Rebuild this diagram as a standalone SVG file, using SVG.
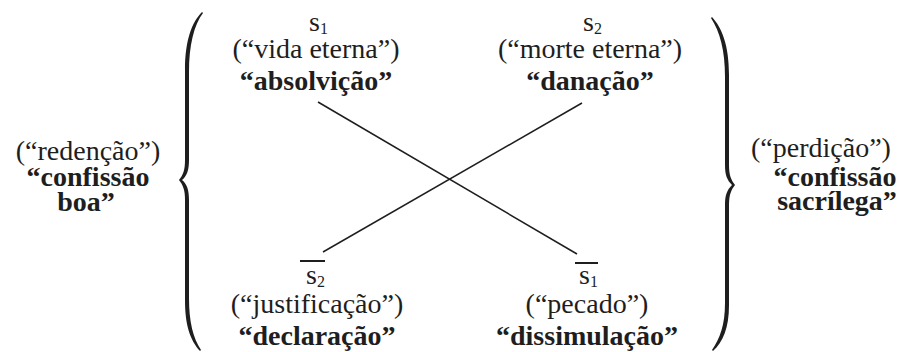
<svg xmlns="http://www.w3.org/2000/svg" width="902" height="352" viewBox="0 0 902 352" font-family="'Liberation Serif', 'Times New Roman', serif">
<style>
  .t { font-size: 28px; text-anchor: middle; fill: #1e1e1e; }
  .b { font-size: 28px; font-weight: bold; text-anchor: middle; fill: #1e1e1e; }
  .s { font-size: 28px; fill: #1e1e1e; }
  .sub { font-size: 16px; }
  .bar { stroke: #1e1e1e; stroke-width: 2; }
  .link { stroke: #1e1e1e; stroke-width: 1.5; fill: none; }
  .brace { fill: #1e1e1e; }
</style>
<rect width="902" height="352" fill="#ffffff"/>

<g id="connectors">
  <line class="link" x1="318" y1="102" x2="577" y2="254"/>
  <line class="link" x1="323" y1="252" x2="582" y2="103"/>
</g>

<g id="braces">
  <path class="brace" d="M202,12 C192,22 185,40 185,70 L185,160 C185,170 183,175 179,180 C183,185 185,190 185,200 L185,300 C185,325 190,340 200,351 L201,350 C193,338 189,322 189,298 L189,200 C189,190 187,184 182,180 C187,176 189,170 189,160 L189,72 C189,45 194,25 203,13 Z"/>
  <path class="brace" d="M712,17 C722,28 729,45 729,75 L729,165 C729,175 731,180 735,185 C731,190 729,195 729,205 L729,305 C729,328 723,342 713,351 L712,350 C720,338 725,325 725,303 L725,205 C725,195 727,190 732,185 C727,180 725,175 725,165 L725,77 C725,50 720,32 711,18 Z"/>
</g>

<g id="node-s1">
  <text class="s" x="309" y="31">s<tspan class="sub" dy="3">1</tspan></text>
  <text class="t" x="316" y="58">(“vida eterna”)</text>
  <text class="b" x="316" y="90">“absolvição”</text>
</g>

<g id="node-s2">
  <text class="s" x="583" y="31">s<tspan class="sub" dy="3">2</tspan></text>
  <text class="t" x="590" y="58">(“morte eterna”)</text>
  <text class="b" x="590" y="90">“danação”</text>
</g>

<g id="node-not-s2">
  <line class="bar" x1="300" y1="261" x2="325" y2="261"/>
  <text class="s" x="306" y="284">s<tspan class="sub" dy="3">2</tspan></text>
  <text class="t" x="317" y="313">(“justificação”)</text>
  <text class="b" x="317" y="345">“declaração”</text>
</g>

<g id="node-not-s1">
  <line class="bar" x1="575" y1="263" x2="598" y2="263"/>
  <text class="s" x="579" y="284">s<tspan class="sub" dy="3">1</tspan></text>
  <text class="t" x="587" y="313">(“pecado”)</text>
  <text class="b" x="587" y="345">“dissimulação”</text>
</g>

<g id="node-left">
  <text class="t" x="88" y="160">(“redenção”)</text>
  <text class="b" x="88" y="186">“confissão</text>
  <text class="b" x="86" y="211">boa”</text>
</g>

<g id="node-right">
  <text class="t" x="821" y="157">(“perdição”)</text>
  <text class="b" x="835" y="186">“confissão</text>
  <text class="b" x="837" y="210">sacrílega”</text>
</g>
</svg>
